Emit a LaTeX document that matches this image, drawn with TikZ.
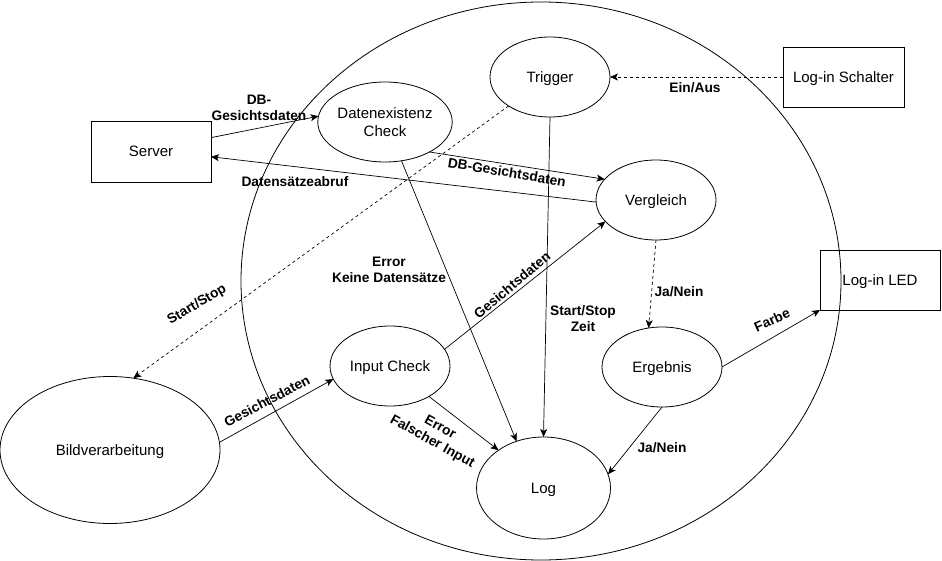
\documentclass[tikz,border=0pt]{standalone}
\usepackage{fontspec}
\setmainfont{Liberation Sans}
\usetikzlibrary{arrows.meta,shapes.geometric}
\begin{document}
\begin{tikzpicture}[x=1pt,y=-1pt,
  nodefont/.style={font=\fontsize{15}{18.5}\selectfont},
  oneline/.style={text height=13.6pt,text depth=3.2pt},
  ell/.style={ellipse,draw,line width=0.8pt,inner sep=0pt,outer sep=0pt,nodefont,align=center},
  box/.style={rectangle,draw,line width=0.8pt,inner sep=0pt,outer sep=0pt,nodefont,align=center,oneline},
  lbl/.style={font=\fontsize{13.75}{16}\selectfont\bfseries,align=center,inner sep=0pt},
  conn/.style={line width=0.7pt,-{Stealth[length=8pt,width=7pt,inset=2pt]}},
  dconn/.style={conn,dash pattern=on 3pt off 3pt}]
\useasboundingbox (0,0) rectangle (942,561);
% big circle
\node[ellipse,draw,line width=0.8pt,minimum width=600pt,minimum height=558pt,inner sep=0pt] (sys) at (541,281) {};
% nodes
\node[ell,oneline,minimum width=120pt,minimum height=80pt] (trig) at (550,77) {Trigger};
\node[ell,minimum width=120pt,minimum height=80pt] (dc) at (385,122) {Datenexistenz\\Check};
\node[ell,oneline,minimum width=120pt,minimum height=80pt] (verg) at (656,200) {Vergleich};
\node[ell,oneline,minimum width=120pt,minimum height=80pt] (ic) at (390,366) {Input Check};
\node[ell,oneline,minimum width=120pt,minimum height=80pt] (erg) at (662,367) {Ergebnis};
\node[ell,oneline,minimum width=134pt,minimum height=102pt] (log) at (543.5,488) {Log};
\node[ell,oneline,minimum width=220pt,minimum height=147pt] (bild) at (110,450) {Bildverarbeitung};
\node[box,minimum width=120pt,minimum height=61pt] (server) at (151,151.5) {Server};
\node[box,minimum width=121pt,minimum height=60pt] (schalter) at (843.5,77) {Log-in Schalter};
\node[box,minimum width=120pt,minimum height=60pt] (led) at (880,280) {Log-in LED};
% connectors
\draw[conn] (server.13.6) -- (dc.175.2);
\draw[conn] (verg.182) -- (server.-5.2);
\draw[conn] (dc.-34.6) -- (verg.158.7);
\draw[dconn] (schalter.west) -- (trig.east);
\draw[dconn] (trig.215.5) -- (bild.72.5);
\draw[conn] (trig.south) -- (log.north);
\draw[conn] (dc.-67) -- (log.120);
\draw[conn] (ic.17.2) -- (verg.203.5);
\draw[conn] (bild.4.2) -- (ic.193);
\draw[conn] (ic.-38.7) -- (log.140.4);
\draw[dconn] (verg.south) -- (erg.109.7);
\draw[conn] (erg.east) -- (led.south west);
\draw[conn] (erg.south) -- (log.12);
% labels
\node[lbl] (l1) at (259,108) {DB-\\Gesichtsdaten};
\node[lbl] (l2) at (295,182) {Datensätzeabruf};
\node[lbl,rotate=-9.5] (l3) at (507,172) {DB-Gesichtsdaten};
\node[lbl] (l4) at (695,88) {Ein/Aus};
\node[lbl,rotate=31] (l5) at (197,305) {Start/Stop};
\node[lbl] (l6) at (389,270) {Error\\Keine Datensätze};
\node[lbl,rotate=40] (l7) at (512,285) {Gesichtsdaten};
\node[lbl] (l8) at (583,319) {Start/Stop\\Zeit};
\node[lbl,rotate=28] (l9) at (267,401) {Gesichtsdaten};
\node[lbl,rotate=-29] (l10) at (436,435) {Error\\Falscher Input};
\node[lbl] (l11) at (679,292) {Ja/Nein};
\node[lbl,rotate=24] (l12) at (772,320) {Farbe};
\node[lbl] (l13) at (662,448) {Ja/Nein};
\end{tikzpicture}
\end{document}
